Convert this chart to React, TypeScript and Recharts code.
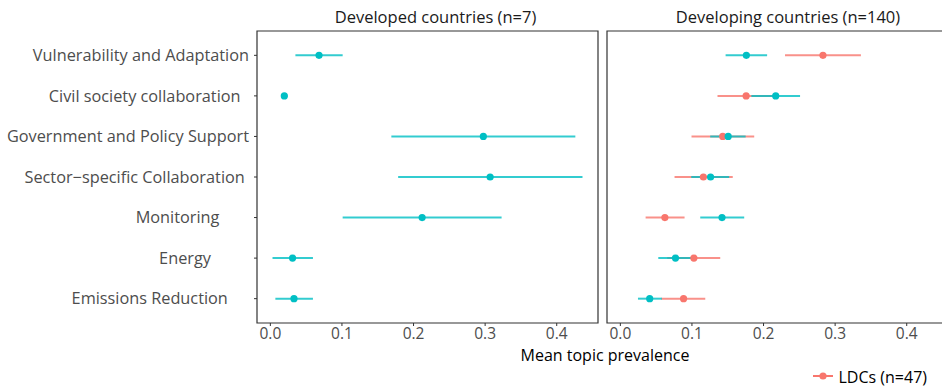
import { ScatterChart, Scatter, XAxis, YAxis, ErrorBar, ReferenceArea } from 'recharts'

// trailing spaces are part of the original labels
const topics = [
  'Vulnerability and Adaptation',
  'Civil society collaboration  ',
  'Government and Policy Support',
  'Sector\u2212specific Collaboration ',
  'Monitoring       ',
  'Energy         ',
  'Emissions Reduction     ',
]

// Developed countries (n=7)
const devMean = [0.068, 0.0195, 0.2975, 0.307, 0.212, 0.031, 0.033]
const devLow = [0.035, 0.016, 0.169, 0.1785, 0.101, 0.003, 0.007]
const devHigh = [0.101, 0.024, 0.426, 0.436, 0.323, 0.0595, 0.0595]

// Developing countries, non-LDC
const othMean = [0.176, 0.217, 0.1506, 0.126, 0.142, 0.077, 0.041]
const othLow = [0.147, 0.183, 0.1255, 0.099, 0.1116, 0.053, 0.0246]
const othHigh = [0.205, 0.251, 0.175, 0.152, 0.173, 0.1, 0.058]

// Developing countries, LDCs (n=47)
const ldcMean = [0.283, 0.1757, 0.143, 0.116, 0.0622, 0.1027, 0.0883]
const ldcLow = [0.23, 0.1357, 0.0994, 0.0757, 0.0353, 0.0655, 0.057]
const ldcHigh = [0.336, 0.213, 0.187, 0.157, 0.0897, 0.1395, 0.1186]

const xTicks = [0, 0.1, 0.2, 0.3, 0.4]
const rowTicks = topics.map((_, i) => i)

const TEAL = '#00BFC4'
const RED = '#F8766D'
const FONT = '"Open Sans", sans-serif'

const rows = (mean: number[], low: number[], high: number[]) =>
  topics.map((t, i) => ({ row: i, topic: t, mean: mean[i], err: [mean[i] - low[i], high[i] - mean[i]] }))

const devData = rows(devMean, devLow, devHigh)
const othData = rows(othMean, othLow, othHigh)
const ldcData = rows(ldcMean, ldcLow, ldcHigh)

// shared x scale, ggplot-style 5% expansion
const allLow = Math.min(...devLow, ...othLow, ...ldcLow)
const allHigh = Math.max(...devHigh, ...othHigh, ...ldcHigh)
const pad = (allHigh - allLow) * 0.05
const xDomain: [number, number] = [allLow - pad, allHigh + pad]
const yDomain: [number, number] = [-0.6, topics.length - 0.4]

const dot = (color: string) => (p: any) => <circle cx={p.cx} cy={p.cy} r={3.6} fill={color} />

const TopicTick = (p: any) => (
  <text x={p.x} y={p.y} dy="0.355em" textAnchor="end" fill="#4d4d4d" fontSize={16.3} style={{ whiteSpace: 'pre' }}>
    {topics[p.payload.value]}
  </text>
)

function series(data: any[], color: string, name: string) {
  return (
    <Scatter name={name} data={data} dataKey="mean" shape={dot(color)} isAnimationActive={false}>
      <ErrorBar dataKey="err" direction="x" width={0} stroke={color} strokeWidth={2} strokeOpacity={0.8} isAnimationActive={false} />
    </Scatter>
  )
}

function xAxis() {
  return (
    <XAxis
      type="number"
      dataKey="mean"
      domain={xDomain}
      ticks={xTicks}
      tickFormatter={(v) => Number(v).toFixed(1)}
      axisLine={false}
      tickSize={3}
      tickLine={{ stroke: '#333' }}
      tick={{ fill: '#4d4d4d', fontSize: 15.5 }}
      height={30}
      allowDataOverflow
    />
  )
}

function border() {
  return (
    <ReferenceArea
      x1={xDomain[0]}
      x2={xDomain[1]}
      y1={yDomain[0]}
      y2={yDomain[1]}
      fill="none"
      stroke="#333"
      strokeWidth={1.2}
      ifOverflow="visible"
    />
  )
}

export default function App() {
  return (
    <div style={{ position: 'absolute', left: 0, top: 0, width: 942, height: 388, overflow: 'hidden', background: '#fff', fontFamily: FONT }}>
      <div style={{ position: 'absolute', left: 0, top: 0 }}>
        <ScatterChart width={600} height={388} margin={{ top: 31, right: 2, bottom: 35, left: 0 }}>
          {xAxis()}
          <YAxis
            type="number"
            dataKey="row"
            domain={yDomain}
            ticks={rowTicks}
            reversed
            width={257}
            axisLine={false}
            tickSize={3}
            tickMargin={5}
            tickLine={{ stroke: '#333' }}
            tick={<TopicTick />}
          />
          {border()}
          {series(devData, TEAL, 'Developed countries')}
        </ScatterChart>
      </div>
      <div style={{ position: 'absolute', left: 600, top: 0 }}>
        <ScatterChart width={350} height={388} margin={{ top: 31, right: 2, bottom: 35, left: 7 }}>
          {xAxis()}
          <YAxis type="number" dataKey="row" domain={yDomain} reversed hide />
          {border()}
          {series(ldcData, RED, 'LDCs (n=47)')}
          {series(othData, TEAL, 'Other developing countries')}
        </ScatterChart>
      </div>
      <svg width={942} height={388} style={{ position: 'absolute', left: 0, top: 0, pointerEvents: 'none' }}>
        <text x={435.5} y={23} textAnchor="middle" fontSize={16.5} fill="#1a1a1a">Developed countries (n=7)</text>
        <text x={788} y={23} textAnchor="middle" fontSize={16.5} fill="#1a1a1a">Developing countries (n=140)</text>
        <text x={605} y={360.5} textAnchor="middle" fontSize={16} fill="#000">Mean topic prevalence</text>
        <line x1={813} x2={833} y1={376} y2={376} stroke={RED} strokeWidth={2} />
        <circle cx={823} cy={376} r={3.6} fill={RED} />
        <text x={838.5} y={383.3} fontSize={16} fill="#000">LDCs (n=47)</text>
      </svg>
    </div>
  )
}
